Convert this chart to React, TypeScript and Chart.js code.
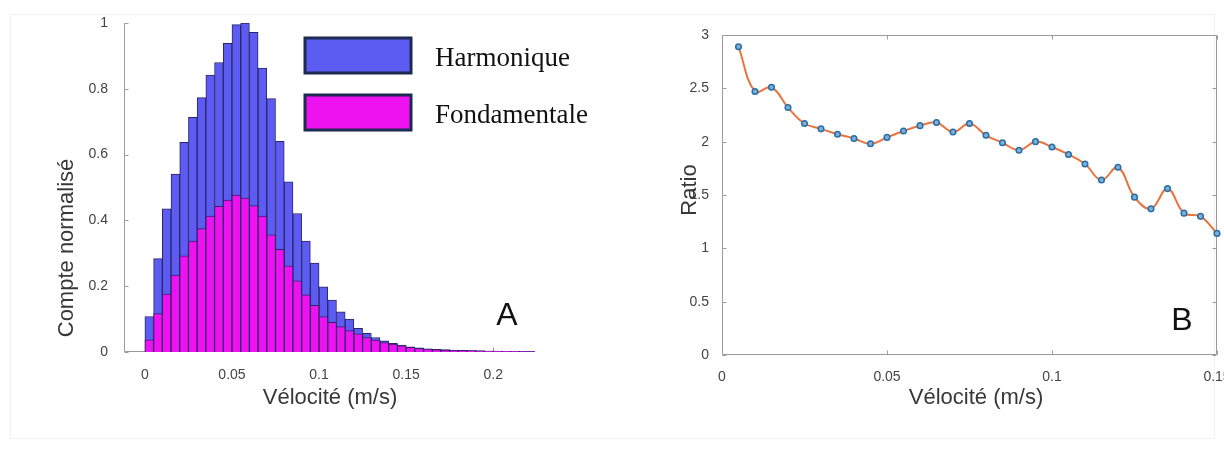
import React, { useEffect, useRef } from 'react';
import { Chart, registerables } from 'chart.js';

Chart.register(...registerables);

const SANS = '"Liberation Sans", Arial, Helvetica, sans-serif';
const SERIF = '"Liberation Serif", "Times New Roman", serif';

// Panel A: normalised velocity histograms, 0.005 m/s bins (bin centres)
const BIN_CENTERS = [
  0.0025, 0.0075, 0.0125, 0.0175, 0.0225, 0.0275, 0.0325, 0.0375, 0.0425, 0.0475,
  0.0525, 0.0575, 0.0625, 0.0675, 0.0725, 0.0775, 0.0825, 0.0875, 0.0925, 0.0975,
  0.1025, 0.1075, 0.1125, 0.1175, 0.1225, 0.1275, 0.1325, 0.1375, 0.1425, 0.1475,
  0.1525, 0.1575, 0.1625, 0.1675, 0.1725, 0.1775, 0.1825, 0.1875, 0.1925, 0.1975,
  0.2025, 0.2075, 0.2125, 0.2175, 0.2225,
];
const HARMONIQUE = [
  0.108, 0.284, 0.435, 0.541, 0.637, 0.713, 0.773, 0.842, 0.88, 0.938,
  0.995, 1.0, 0.972, 0.863, 0.77, 0.64, 0.517, 0.421, 0.337, 0.27,
  0.198, 0.158, 0.122, 0.1, 0.072, 0.057, 0.044, 0.034, 0.026, 0.021,
  0.016, 0.013, 0.01, 0.008, 0.007, 0.006, 0.005, 0.004, 0.004, 0.003,
  0.003, 0.002, 0.002, 0.002, 0.001,
];
const FONDAMENTALE = [
  0.037, 0.117, 0.176, 0.234, 0.292, 0.337, 0.375, 0.413, 0.443, 0.462,
  0.477, 0.468, 0.445, 0.413, 0.356, 0.312, 0.262, 0.216, 0.174, 0.142,
  0.108, 0.09, 0.077, 0.065, 0.055, 0.044, 0.036, 0.029, 0.024, 0.019,
  0.014, 0.011, 0.009, 0.007, 0.006, 0.005, 0.004, 0.004, 0.003, 0.003,
  0.002, 0.002, 0.002, 0.001, 0.001,
];
const A_X_TICKS = [0, 0.05, 0.1, 0.15, 0.2];
const A_Y_TICKS = [0, 0.2, 0.4, 0.6, 0.8, 1];

// Panel B: harmonic / fundamental ratio against velocity
const B_VELOCITY = [
  0.005, 0.01, 0.015, 0.02, 0.025, 0.03, 0.035, 0.04, 0.045, 0.05,
  0.055, 0.06, 0.065, 0.07, 0.075, 0.08, 0.085, 0.09, 0.095, 0.1,
  0.105, 0.11, 0.115, 0.12, 0.125, 0.13, 0.135, 0.14, 0.145, 0.15,
];
const B_RATIO = [
  2.89, 2.47, 2.51, 2.32, 2.17, 2.12, 2.07, 2.03, 1.98, 2.04,
  2.1, 2.15, 2.18, 2.09, 2.17, 2.06, 1.99, 1.92, 2.0, 1.95,
  1.88, 1.79, 1.64, 1.76, 1.48, 1.37, 1.56, 1.33, 1.3, 1.14,
];
const B_X_TICKS = [0, 0.05, 0.1, 0.15];
const B_Y_TICKS = [0, 0.5, 1, 1.5, 2, 2.5, 3];

const HARM_FILL = '#5c5cf2';
const FOND_FILL = '#ee12f0';
const BAR_EDGE = '#2c2468';
const LINE_ORANGE = '#e8743f';
const AXIS_GREY = '#9b9b9b';
const TICK_TEXT = '#444444';
const TITLE_TEXT = '#383838';

// Axis lines with inward tick marks; optional full box with ticks on every side
const matlabAxes = {
  id: 'matlabAxes',
  beforeDatasetsDraw(chart: any, _args: any, opts: any) {
    const { ctx, chartArea: a, scales } = chart;
    const len = opts.tickLen ?? 4;
    const L = Math.round(a.left) + 0.5;
    const R = Math.round(a.right) - 0.5;
    const T = Math.round(a.top) + 0.5;
    const B = Math.round(a.bottom) - 0.5;
    ctx.save();
    ctx.strokeStyle = opts.color;
    ctx.lineWidth = 1;
    ctx.beginPath();
    ctx.moveTo(L, T);
    ctx.lineTo(L, B);
    ctx.lineTo(R, B);
    if (opts.box) {
      ctx.lineTo(R, T);
      ctx.lineTo(L, T);
    }
    for (const t of scales.x.ticks) {
      const px = Math.round(scales.x.getPixelForValue(t.value)) + 0.5;
      ctx.moveTo(px, B);
      ctx.lineTo(px, B - len);
      if (opts.box) {
        ctx.moveTo(px, T);
        ctx.lineTo(px, T + len);
      }
    }
    for (const t of scales.y.ticks) {
      const py = Math.round(scales.y.getPixelForValue(t.value)) + 0.5;
      ctx.moveTo(L, py);
      ctx.lineTo(L + len, py);
      if (opts.box) {
        ctx.moveTo(R, py);
        ctx.lineTo(R - len, py);
      }
    }
    ctx.stroke();
    ctx.restore();
  },
};

// Axis titles, panel letter and the in-plot legend
const panelText = {
  id: 'panelText',
  afterDraw(chart: any, _args: any, opts: any) {
    const { ctx } = chart;
    for (const it of opts.items || []) {
      ctx.save();
      ctx.translate(it.x, it.y);
      if (it.rotate) ctx.rotate(it.rotate);
      ctx.font = it.font;
      ctx.fillStyle = it.color;
      ctx.textAlign = it.align || 'center';
      ctx.textBaseline = 'middle';
      ctx.fillText(it.text, 0, 0);
      ctx.restore();
    }
    const lg = opts.legend;
    if (lg) {
      chart.data.datasets.forEach((ds: any, i: number) => {
        const y = lg.y + i * lg.gap;
        ctx.save();
        ctx.fillStyle = ds.backgroundColor;
        ctx.fillRect(lg.x, y, lg.w, lg.h);
        ctx.lineWidth = lg.lineWidth;
        ctx.strokeStyle = lg.border;
        ctx.strokeRect(lg.x, y, lg.w, lg.h);
        ctx.font = lg.font;
        ctx.fillStyle = lg.color;
        ctx.textAlign = 'left';
        ctx.textBaseline = 'middle';
        ctx.fillText(ds.label, lg.textX, y + lg.h / 2 + lg.textDy);
        ctx.restore();
      });
    }
  },
};

const tickFont = { family: SANS, size: 14 };
const titleFont = `22px ${SANS}`;

function HistogramPanel() {
  const ref = useRef<HTMLCanvasElement>(null);
  useEffect(() => {
    const barStyle = {
      borderColor: BAR_EDGE,
      borderWidth: 1,
      grouped: false,
      barPercentage: 1,
      categoryPercentage: 1,
    };
    const chart = new Chart(ref.current as HTMLCanvasElement, {
      type: 'bar',
      data: {
        datasets: [
          {
            label: 'Harmonique',
            data: BIN_CENTERS.map((x, i) => ({ x, y: HARMONIQUE[i] })),
            backgroundColor: HARM_FILL,
            order: 2,
            ...barStyle,
          },
          {
            label: 'Fondamentale',
            data: BIN_CENTERS.map((x, i) => ({ x, y: FONDAMENTALE[i] })),
            backgroundColor: FOND_FILL,
            order: 1,
            ...barStyle,
          },
        ],
      } as any,
      options: {
        animation: false,
        responsive: false,
        layout: { padding: { left: 0, top: 23, right: 65, bottom: 0 } },
        scales: {
          x: {
            type: 'linear',
            min: -0.012,
            max: 0.224,
            offset: false,
            grid: { display: false },
            border: { display: false },
            ticks: { color: TICK_TEXT, font: tickFont, padding: 7, maxRotation: 0, callback: (v: any) => String(v) },
            afterBuildTicks: (s: any) => { s.ticks = A_X_TICKS.map((v) => ({ value: v })); },
            afterFit: (s: any) => { s.height = 99; },
          },
          y: {
            min: 0,
            max: 1,
            grid: { display: false },
            border: { display: false },
            ticks: { color: TICK_TEXT, font: tickFont, padding: 8, callback: (v: any) => String(v) },
            afterBuildTicks: (s: any) => { s.ticks = A_Y_TICKS.map((v) => ({ value: v })); },
            afterFit: (s: any) => { s.width = 124; },
          },
        },
        plugins: {
          legend: { display: false },
          tooltip: { enabled: false },
          matlabAxes: { color: AXIS_GREY, tickLen: 4, box: false },
          panelText: {
            items: [
              { text: 'Compte normalisé', x: 67, y: 248, rotate: -Math.PI / 2, font: titleFont, color: TITLE_TEXT },
              { text: 'Vélocité (m/s)', x: 330, y: 398, font: titleFont, color: TITLE_TEXT },
              { text: 'A', x: 507, y: 316, font: `32px ${SANS}`, color: '#111' },
            ],
            legend: {
              x: 305, y: 38, w: 106, h: 35, gap: 57, textX: 435, textDy: 3,
              font: `27px ${SERIF}`, color: '#111', border: '#1d2b52', lineWidth: 3,
            },
          },
        } as any,
      },
      plugins: [matlabAxes, panelText],
    });
    return () => chart.destroy();
  }, []);
  return <canvas ref={ref} width={600} height={451} style={{ position: 'absolute', left: 0, top: 0 }} />;
}

function RatioPanel() {
  const ref = useRef<HTMLCanvasElement>(null);
  useEffect(() => {
    const chart = new Chart(ref.current as HTMLCanvasElement, {
      type: 'line',
      data: {
        datasets: [
          {
            label: 'Ratio',
            data: B_VELOCITY.map((x, i) => ({ x, y: B_RATIO[i] })),
            borderColor: LINE_ORANGE,
            borderWidth: 2,
            tension: 0.4,
            pointRadius: 2.8,
            pointBorderWidth: 1.5,
            pointBorderColor: '#2b6ea6',
            pointBackgroundColor: '#78b2da',
            clip: false,
          },
        ],
      } as any,
      options: {
        animation: false,
        responsive: false,
        layout: { padding: { left: 0, top: 35, right: 23, bottom: 0 } },
        scales: {
          x: {
            type: 'linear',
            min: 0,
            max: 0.15,
            grid: { display: false },
            border: { display: false },
            ticks: { color: TICK_TEXT, font: tickFont, padding: 6, maxRotation: 0, callback: (v: any) => String(v) },
            afterBuildTicks: (s: any) => { s.ticks = B_X_TICKS.map((v) => ({ value: v })); },
            afterFit: (s: any) => { s.height = 96; },
          },
          y: {
            min: 0,
            max: 3,
            grid: { display: false },
            border: { display: false },
            ticks: { color: TICK_TEXT, font: tickFont, padding: 5, callback: (v: any) => String(v) },
            afterBuildTicks: (s: any) => { s.ticks = B_Y_TICKS.map((v) => ({ value: v })); },
            afterFit: (s: any) => { s.width = 102; },
          },
        },
        plugins: {
          legend: { display: false },
          tooltip: { enabled: false },
          matlabAxes: { color: AXIS_GREY, tickLen: 4, box: true },
          panelText: {
            items: [
              { text: 'Ratio', x: 70, y: 190, rotate: -Math.PI / 2, font: titleFont, color: TITLE_TEXT },
              { text: 'Vélocité (m/s)', x: 356, y: 398, font: titleFont, color: TITLE_TEXT },
              { text: 'B', x: 562, y: 321, font: `32px ${SANS}`, color: '#111' },
            ],
          },
        } as any,
      },
      plugins: [matlabAxes, panelText],
    });
    return () => chart.destroy();
  }, []);
  return <canvas ref={ref} width={620} height={451} style={{ position: 'absolute', left: 620, top: 0 }} />;
}

export default function App() {
  return (
    <div
      style={{
        position: 'absolute',
        left: 0,
        top: 0,
        width: 1224,
        height: 451,
        overflow: 'hidden',
        background: '#ffffff',
      }}
    >
      <div
        style={{
          position: 'absolute',
          left: 10,
          top: 14,
          width: 1205,
          height: 425,
          border: '1px solid #f1f1f1',
          boxSizing: 'border-box',
        }}
      />
      <HistogramPanel />
      <RatioPanel />
    </div>
  );
}
